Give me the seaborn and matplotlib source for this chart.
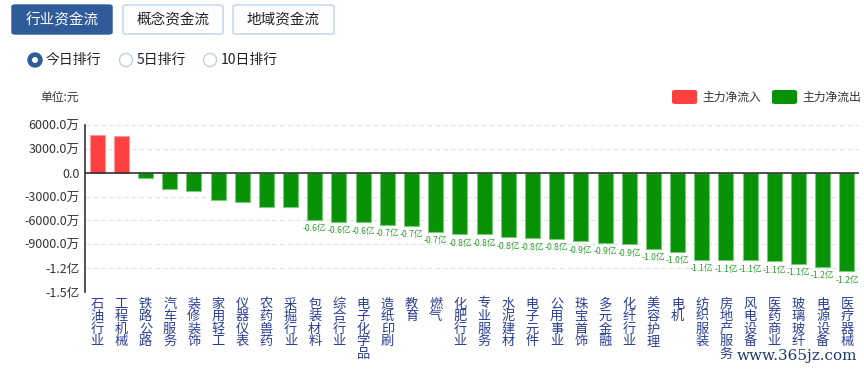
import numpy as np
import pandas as pd
import seaborn as sns
import matplotlib.pyplot as plt
from matplotlib.patches import FancyBboxPatch, Ellipse

# industries and main-force net flow (unit: 万元)
industries = ['石油行业', '工程机械', '铁路公路', '汽车服务', '装修装饰', '家用轻工', '仪器仪表', '农药兽药',
              '采掘行业', '包装材料', '综合行业', '电子化学品', '造纸印刷', '教育', '燃气', '化肥行业',
              '专业服务', '水泥建材', '电子元件', '公用事业', '珠宝首饰', '多元金融', '化纤行业', '美容护理',
              '电机', '纺织服装', '房地产服务', '风电设备', '医药商业', '玻璃玻纤', '电源设备', '医疗器械']
net_flow = [4730, 4570, -630, -2010, -2350, -3480, -3700, -4280,
            -4330, -5910, -6160, -6250, -6540, -6720, -7470, -7760,
            -7760, -8140, -8260, -8350, -8640, -8850, -9020, -9610,
            -9940, -10940, -11030, -11030, -11160, -11450, -11820, -12420]
y_ticks = [6000, 3000, 0, -3000, -6000, -9000, -12000, -15000]
tabs = ['行业资金流', '概念资金流', '地域资金流']
periods = ['今日排行', '5日排行', '10日排行']
legend_labels = ['主力净流入', '主力净流出']

RED = '#ff4040'
GREEN = '#079207'

sns.set_style('white')
plt.rcParams['font.family'] = ['Noto Sans CJK SC', 'DejaVu Sans']

df = pd.DataFrame({'industry': industries, 'flow': net_flow})
df['dir'] = np.where(df['flow'] >= 0, legend_labels[0], legend_labels[1])

W, H = 864, 370
fig = plt.figure(figsize=(W / 100, H / 100), dpi=100)
fx = lambda x: x / W
fy = lambda y: 1 - y / H

ax = fig.add_axes([fx(85), fy(292), fx(859) - fx(85), fy(125) - fy(292)])
sns.barplot(data=df, x='industry', y='flow', hue='dir',
            palette={legend_labels[0]: RED, legend_labels[1]: GREEN},
            dodge=False, legend=False, width=0.62, saturation=1, ax=ax)
for bar in ax.patches:
    fc = bar.get_facecolor()
    bar.set_edgecolor('#ff9a9a' if fc[0] > 0.9 else '#7cc87c')
    bar.set_linewidth(0.8)

# value labels below the larger outflow bars
for i, v in enumerate(net_flow):
    if v <= -5000:
        ax.annotate(f'{v / 1e4:.1f}亿', (i, v), xytext=(0, -3), textcoords='offset points',
                    ha='center', va='top', fontsize=6.2, color='#2e9e2e')

def fmt(v):
    if v == 0:
        return '0.0'
    if abs(v) >= 10000:
        return f'{v / 1e4:.1f}亿'
    return f'{v:.1f}万'

ax.set_ylim(-15000, 6000)
ax.set_xlim(-0.5, len(industries) - 0.5)
ax.set_yticks(y_ticks)
ax.set_yticklabels([fmt(v) for v in y_ticks], fontsize=9, color='#333333')
ax.set_xticks(range(len(industries)))
ax.set_xticklabels(['\n'.join(s) for s in industries], fontsize=9.5, color='#2b3f94',
                   linespacing=0.95, va='top')
ax.tick_params(axis='both', length=0)
ax.tick_params(axis='x', pad=4)
ax.tick_params(axis='y', pad=4)
ax.set_xlabel('')
ax.set_ylabel('')
for y in y_ticks:
    if y != 0:
        ax.axhline(y, color='#e3e3e3', lw=0.8, ls=(0, (4, 3)), zorder=0)
ax.axhline(0, color='#333333', lw=1.2, zorder=3)
for s in ['top', 'right', 'bottom']:
    ax.spines[s].set_visible(False)
ax.spines['left'].set_color('#333333')
ax.spines['left'].set_linewidth(1.2)

# header tabs
tab_x = [(12, 112), (123, 223), (233, 334)]
for k, (name, (x0, x1)) in enumerate(zip(tabs, tab_x)):
    active = k == 0
    fig.add_artist(FancyBboxPatch((fx(x0), fy(34)), fx(x1 - x0), fy(5) - fy(34),
                                  boxstyle='round,pad=0,rounding_size=0.004',
                                  transform=fig.transFigure,
                                  facecolor='#2f5b9a' if active else 'white',
                                  edgecolor='#2f5b9a' if active else '#b9d3ec', lw=1))
    fig.text(fx((x0 + x1) / 2), fy(20), name, ha='center', va='center', fontsize=10.5,
             color='white' if active else '#222222')

# period radio buttons
radio_x = [35, 126, 210]
for k, (name, cx) in enumerate(zip(periods, radio_x)):
    if k == 0:
        fig.add_artist(Ellipse((fx(cx), fy(60)), fx(14), fy(0) - fy(14), transform=fig.transFigure,
                               facecolor='#2f5b9a', edgecolor='#2f5b9a'))
        fig.add_artist(Ellipse((fx(cx), fy(60)), fx(6), fy(0) - fy(6), transform=fig.transFigure,
                               facecolor='white', edgecolor='none'))
    else:
        fig.add_artist(Ellipse((fx(cx), fy(60)), fx(13), fy(0) - fy(13), transform=fig.transFigure,
                               facecolor='white', edgecolor='#b9d3ec', lw=1))
    fig.text(fx(cx + 11), fy(60), name, ha='left', va='center', fontsize=10, color='#222222')

fig.text(fx(40), fy(97), '单位:元', ha='left', va='center', fontsize=8.5, color='#333333')

# legend
for name, col, x0 in zip(legend_labels, [RED, GREEN], [672, 772]):
    fig.add_artist(FancyBboxPatch((fx(x0), fy(104)), fx(25), fy(90) - fy(104),
                                  boxstyle='round,pad=0,rounding_size=0.004',
                                  transform=fig.transFigure, facecolor=col, edgecolor='none'))
    fig.text(fx(x0 + 30), fy(97), name, ha='left', va='center', fontsize=8.5, color='#333333')

fig.text(fx(857), fy(356), 'www.365jz.com', ha='right', va='center', fontsize=11,
         family='DejaVu Serif', color='#1d3a6e')

fig.savefig('out.png', dpi=100)
